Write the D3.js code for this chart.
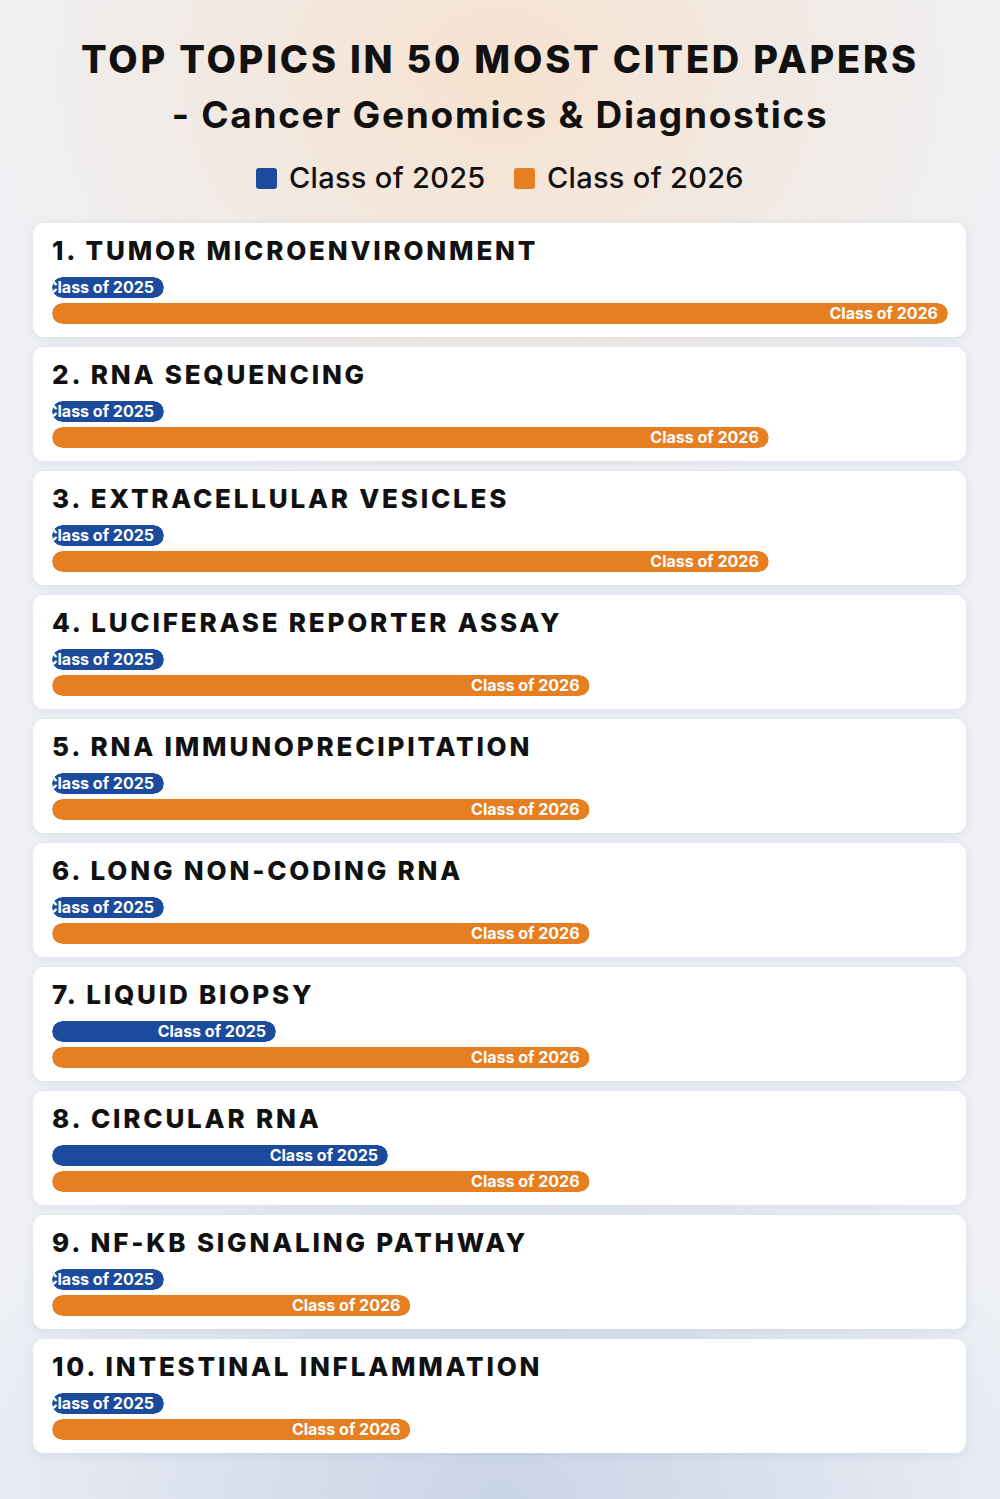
<!DOCTYPE html>
<html>
<head>
<meta charset="utf-8">
<script src="https://cdn.jsdelivr.net/npm/d3@7"></script>
<style>
  html, body { margin: 0; padding: 0; background: #eef0f5; }
  svg { display: block; }
</style>
</head>
<body>
<div class="container"></div>
<script>
const topics = [
    'TUMOR MICROENVIRONMENT',
    'RNA SEQUENCING',
    'EXTRACELLULAR VESICLES',
    'LUCIFERASE REPORTER ASSAY',
    'RNA IMMUNOPRECIPITATION',
    'LONG NON-CODING RNA',
    'LIQUID BIOPSY',
    'CIRCULAR RNA',
    'NF-KB SIGNALING PATHWAY',
    'INTESTINAL INFLAMMATION'
];
const seriesNames = ['Class of 2025', 'Class of 2026'];
const class2025 = [5, 5, 5, 5, 5, 5, 10, 15, 5, 5];
const class2026 = [40, 32, 32, 24, 24, 24, 24, 24, 16, 16];

const w = 1000;
const h = 1499;
const colors = ['#1c4a9c', '#e67e22'];
const headFont = 'Inter, "DejaVu Sans", sans-serif';

const card = { left: 33, width: 933, top: 223, height: 114, step: 124 };

const svg = d3.select('.container')
    .append('svg')
    .attr('width', w)
    .attr('height', h)
    .attr('viewBox', [0, 0, w, h]);

const defs = svg.append('defs');

// soft background glows
const warm = defs.append('radialGradient').attr('id', 'warm')
    .attr('cx', 0.5).attr('cy', 0.05).attr('r', 0.55)
    .attr('gradientTransform', 'translate(0.5 0.05) scale(1 0.55) translate(-0.5 -0.05)');
warm.append('stop').attr('offset', 0).attr('stop-color', '#f6e2cf').attr('stop-opacity', 1);
warm.append('stop').attr('offset', 1).attr('stop-color', '#f6e2cf').attr('stop-opacity', 0);

const cool = defs.append('radialGradient').attr('id', 'cool')
    .attr('cx', 0.5).attr('cy', 1).attr('r', 0.6)
    .attr('gradientTransform', 'translate(0.5 1) scale(1 0.45) translate(-0.5 -1)');
cool.append('stop').attr('offset', 0).attr('stop-color', '#c9d4e6').attr('stop-opacity', 1);
cool.append('stop').attr('offset', 1).attr('stop-color', '#c9d4e6').attr('stop-opacity', 0);

const shadow = defs.append('filter').attr('id', 'shadow')
    .attr('x', -0.05).attr('y', -0.2).attr('width', 1.1).attr('height', 1.5);
shadow.append('feDropShadow')
    .attr('dx', 0).attr('dy', 2).attr('stdDeviation', 4)
    .attr('flood-color', '#8090b0').attr('flood-opacity', 0.18);

svg.append('rect').attr('width', w).attr('height', h).attr('fill', '#eef0f5');
svg.append('rect').attr('width', w).attr('height', h).attr('fill', 'url(#cool)');
svg.append('rect').attr('width', w).attr('height', h).attr('fill', 'url(#warm)');

// title
svg.append('text')
    .attr('x', w / 2)
    .attr('y', 73)
    .attr('text-anchor', 'middle')
    .style('font-family', headFont)
    .style('font-size', '38px')
    .style('font-weight', 800)
    .style('letter-spacing', '2.8px')
    .attr('fill', '#111')
    .text('TOP TOPICS IN 50 MOST CITED PAPERS');

svg.append('text')
    .attr('x', w / 2)
    .attr('y', 128)
    .attr('text-anchor', 'middle')
    .style('font-family', headFont)
    .style('font-size', '37px')
    .style('font-weight', 700)
    .style('letter-spacing', '1.7px')
    .attr('fill', '#111')
    .text('- Cancer Genomics & Diagnostics');

// legend
const legendX = [256, 514];
const legend = svg.append('g').selectAll('g')
    .data(seriesNames)
    .join('g')
    .attr('transform', (d, i) => `translate(${legendX[i]},168)`);
legend.append('rect')
    .attr('width', 21).attr('height', 21).attr('rx', 3)
    .attr('fill', (d, i) => colors[i]);
legend.append('text')
    .attr('x', 33).attr('y', 20)
    .style('font-family', headFont)
    .style('font-size', '29px')
    .style('font-weight', 500)
    .style('letter-spacing', '0.3px')
    .attr('fill', '#111')
    .text(d => d);

// bars
const data = topics.map((t, i) => ({ topic: t, values: [class2025[i], class2026[i]] }));

const x = d3.scaleLinear()
    .domain([0, d3.max(class2026)])
    .range([0, 896]);

const y = d3.scaleBand()
    .domain(d3.range(topics.length))
    .range([card.top, card.top + card.step * topics.length])
    .paddingInner(0);

const barY = [54, 80];
const barH = 21;

const rows = svg.append('g')
    .selectAll('g')
    .data(data)
    .join('g')
    .attr('transform', (d, i) => `translate(${card.left},${y(i)})`);

rows.append('rect')
    .attr('width', card.width)
    .attr('height', card.height)
    .attr('rx', 11)
    .attr('fill', '#fff')
    .attr('filter', 'url(#shadow)');

rows.append('text')
    .attr('x', 19)
    .attr('y', 37)
    .style('font-family', headFont)
    .style('font-size', '26px')
    .style('font-weight', 800)
    .style('letter-spacing', '2.8px')
    .attr('fill', '#111')
    .text((d, i) => `${i + 1}. ${d.topic}`);

rows.each(function (d, i) {
    const g = d3.select(this);
    d.values.forEach((v, s) => {
        const id = `clip-${i}-${s}`;
        const bw = x(v);
        defs.append('clipPath').attr('id', id)
            .append('rect')
            .attr('x', 19).attr('y', barY[s])
            .attr('width', bw).attr('height', barH)
            .attr('rx', barH / 2);
        const bar = g.append('g').attr('clip-path', `url(#${id})`);
        bar.append('rect')
            .attr('x', 19).attr('y', barY[s])
            .attr('width', bw).attr('height', barH)
            .attr('rx', barH / 2)
            .attr('fill', colors[s]);
        bar.append('text')
            .attr('x', 19 + bw - 10)
            .attr('y', barY[s] + barH / 2)
            .attr('dy', '0.36em')
            .attr('text-anchor', 'end')
            .style('font-family', headFont)
            .style('font-size', '16px')
            .style('font-weight', 700)
            .attr('fill', '#fff')
            .text(seriesNames[s]);
    });
});
</script>
</body>
</html>
